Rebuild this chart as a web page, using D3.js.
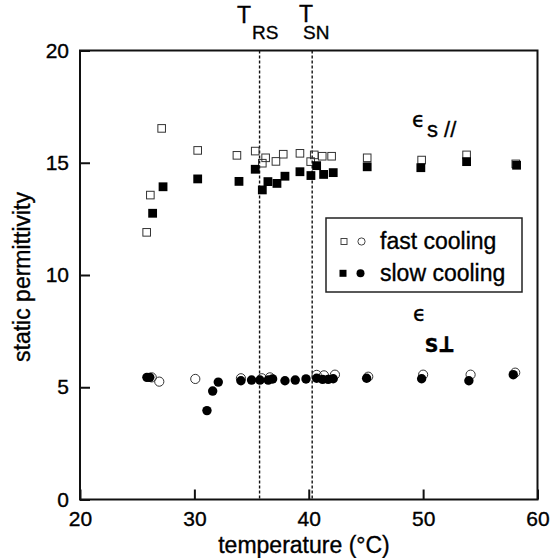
<!DOCTYPE html>
<html>
<head>
<meta charset="utf-8">
<script src="https://cdn.jsdelivr.net/npm/d3@7"></script>
<style>
  body { margin: 0; background: #fff; }
  svg text { font-family: "Liberation Sans", Arial, Helvetica, sans-serif; fill: #000; stroke: #000; stroke-width: 0.35px; }
</style>
</head>
<body>
<div id="chart"></div>
<script>
// static permittivity, parallel component (squares)
const fastParT = [25.83, 26.15, 27.14, 30.29, 33.72, 35.32, 35.94, 36.23, 37.13, 37.77, 39.23, 40.17, 40.48, 41.18, 42.0, 45.11, 49.87, 53.8, 58.1];
const fastParV = [11.90, 13.56, 16.53, 15.55, 15.33, 15.52, 14.98, 15.22, 15.06, 15.38, 15.42, 15.05, 15.35, 15.29, 15.29, 15.22, 15.12, 15.35, 14.95];
const slowParT = [26.35, 27.26, 30.29, 33.9, 35.32, 35.94, 36.43, 37.22, 37.92, 39.23, 40.19, 40.69, 41.3, 42.14, 45.11, 49.8, 53.8, 58.17];
const slowParV = [12.75, 13.93, 14.28, 14.17, 14.71, 13.79, 14.16, 14.08, 14.40, 14.60, 14.43, 14.87, 14.48, 14.56, 14.82, 14.78, 15.05, 14.89];

// perpendicular component (circles)
const fastPerpT = [26.27, 26.93, 30.08, 34.07, 35.9, 36.6, 40.69, 41.33, 42.29, 45.2, 50.0, 54.15, 58.05];
const fastPerpV = [5.44, 5.25, 5.37, 5.40, 5.40, 5.44, 5.55, 5.53, 5.56, 5.47, 5.56, 5.56, 5.65];
const slowPerpT = [25.85, 26.1, 31.1, 31.6, 32.09, 34.07, 35.0, 35.73, 36.46, 36.84, 37.92, 38.82, 39.76, 40.69, 41.21, 41.7, 42.14, 45.06, 49.87, 54.0, 57.88];
const slowPerpV = [5.44, 5.44, 3.96, 4.83, 5.23, 5.29, 5.32, 5.32, 5.32, 5.37, 5.29, 5.32, 5.37, 5.40, 5.35, 5.35, 5.38, 5.40, 5.38, 5.29, 5.56];

// transition temperatures
const transT = [35.7, 40.3];

const xTicks = [20, 30, 40, 50, 60];
const yTicks = [0, 5, 10, 15, 20];

const W = 552, H = 558;
const margin = { top: 50.5, right: 14.5, bottom: 58.5, left: 80 };
const width = W - margin.left - margin.right;
const height = H - margin.top - margin.bottom;

const svg = d3.select('#chart').append('svg')
  .attr('width', W)
  .attr('height', H);

const g = svg.append('g')
  .attr('transform', `translate(${margin.left},${margin.top})`);

const x = d3.scaleLinear().domain([20, 60]).range([0, width]);
const y = d3.scaleLinear().domain([0, 20]).range([height, 0]);

// axes with inward ticks
const xAxis = g.append('g')
  .call(d3.axisBottom(x).tickValues(xTicks).tickSizeInner(-10).tickSizeOuter(0).tickPadding(12));
xAxis.attr('transform', `translate(0,${height})`);
xAxis.select('.domain').remove();
xAxis.selectAll('line').attr('stroke', '#111').attr('stroke-width', 2);
xAxis.selectAll('text').attr('font-size', 21).style('font-family', '"Liberation Sans", Arial, sans-serif');

const yAxis = g.append('g')
  .call(d3.axisLeft(y).tickValues(yTicks).tickSizeInner(-10).tickSizeOuter(0).tickPadding(11));
yAxis.select('.domain').remove();
yAxis.selectAll('line').attr('stroke', '#111').attr('stroke-width', 2);
yAxis.selectAll('text').attr('font-size', 21).style('font-family', '"Liberation Sans", Arial, sans-serif');

// frame
g.append('rect')
  .attr('width', width)
  .attr('height', height)
  .attr('fill', 'none')
  .attr('stroke', '#111')
  .attr('stroke-width', 2);

// dashed transition lines
g.selectAll('.trans')
  .data(transT)
  .enter()
  .append('line')
  .attr('x1', d => x(d)).attr('x2', d => x(d))
  .attr('y1', 0).attr('y2', height)
  .attr('stroke', '#111')
  .attr('stroke-width', 1.4)
  .attr('stroke-dasharray', '3,2');

const zip = (a, b) => a.map((t, i) => [t, b[i]]);

// open markers first, filled ones drawn over them
g.selectAll('.fpar')
  .data(zip(fastParT, fastParV))
  .enter()
  .append('rect')
  .attr('x', d => x(d[0]) - 3.8)
  .attr('y', d => y(d[1]) - 3.8)
  .attr('width', 7.6).attr('height', 7.6)
  .attr('fill', 'none')
  .attr('stroke', '#333')
  .attr('stroke-width', 1);

g.selectAll('.fperp')
  .data(zip(fastPerpT, fastPerpV))
  .enter()
  .append('circle')
  .attr('cx', d => x(d[0]))
  .attr('cy', d => y(d[1]))
  .attr('r', 4.6)
  .attr('fill', 'none')
  .attr('stroke', '#333')
  .attr('stroke-width', 1);

g.selectAll('.spar')
  .data(zip(slowParT, slowParV))
  .enter()
  .append('rect')
  .attr('x', d => x(d[0]) - 4.4)
  .attr('y', d => y(d[1]) - 4.4)
  .attr('width', 8.8).attr('height', 8.8)
  .attr('fill', '#000');

g.selectAll('.sperp')
  .data(zip(slowPerpT, slowPerpV))
  .enter()
  .append('circle')
  .attr('cx', d => x(d[0]))
  .attr('cy', d => y(d[1]))
  .attr('r', 4.7)
  .attr('fill', '#000');

// legend
const lg = svg.append('g');
lg.append('rect')
  .attr('x', 326).attr('y', 218)
  .attr('width', 196).attr('height', 74)
  .attr('fill', '#fff')
  .attr('stroke', '#222')
  .attr('stroke-width', 1.5);
lg.append('rect').attr('x', 341).attr('y', 238.5).attr('width', 6).attr('height', 6)
  .attr('fill', 'none').attr('stroke', '#444').attr('stroke-width', 1);
lg.append('circle').attr('cx', 361.5).attr('cy', 241.5).attr('r', 3.6)
  .attr('fill', 'none').attr('stroke', '#444').attr('stroke-width', 1);
lg.append('rect').attr('x', 339.5).attr('y', 269.8).attr('width', 7).attr('height', 7)
  .attr('fill', '#000');
lg.append('circle').attr('cx', 360.5).attr('cy', 273.3).attr('r', 4)
  .attr('fill', '#000');
lg.append('text').attr('x', 380).attr('y', 248.5).attr('font-size', 23).text('fast cooling');
lg.append('text').attr('x', 380).attr('y', 280.5).attr('font-size', 23).text('slow cooling');

// axis titles
svg.append('text')
  .attr('x', 304).attr('y', 553)
  .attr('text-anchor', 'middle')
  .attr('font-size', 23)
  .text('temperature (°C)');

svg.append('text')
  .attr('transform', 'translate(30,277) rotate(-90)')
  .attr('text-anchor', 'middle')
  .attr('font-size', 23)
  .text('static permittivity');

// transition labels
const tRS = svg.append('text').attr('font-size', 23);
tRS.append('tspan').attr('x', 237).attr('y', 23).text('T');
tRS.append('tspan').attr('x', 252).attr('y', 38.5).attr('font-size', 19).text('RS');

const tSN = svg.append('text').attr('font-size', 23);
tSN.append('tspan').attr('x', 299).attr('y', 22).text('T');
tSN.append('tspan').attr('x', 303).attr('y', 38.5).attr('font-size', 19).text('SN');

// component labels
const ePar = svg.append('text').attr('font-size', 22);
ePar.append('tspan').attr('x', 412).attr('y', 127).style('font-family', '"DejaVu Sans", sans-serif').attr('font-size', 21).text('ϵ');
ePar.append('tspan').attr('x', 427).attr('y', 137).text('s //');

const ePerp = svg.append('text').attr('font-size', 22);
ePerp.append('tspan').attr('x', 413).attr('y', 321).style('font-family', '"DejaVu Sans", sans-serif').attr('font-size', 21).text('ϵ');
ePerp.append('tspan').attr('x', 424).attr('y', 352).style('font-family', '"DejaVu Sans Mono", monospace').attr('font-weight', 'bold').attr('font-size', 25).text('s⊥');
</script>
</body>
</html>
